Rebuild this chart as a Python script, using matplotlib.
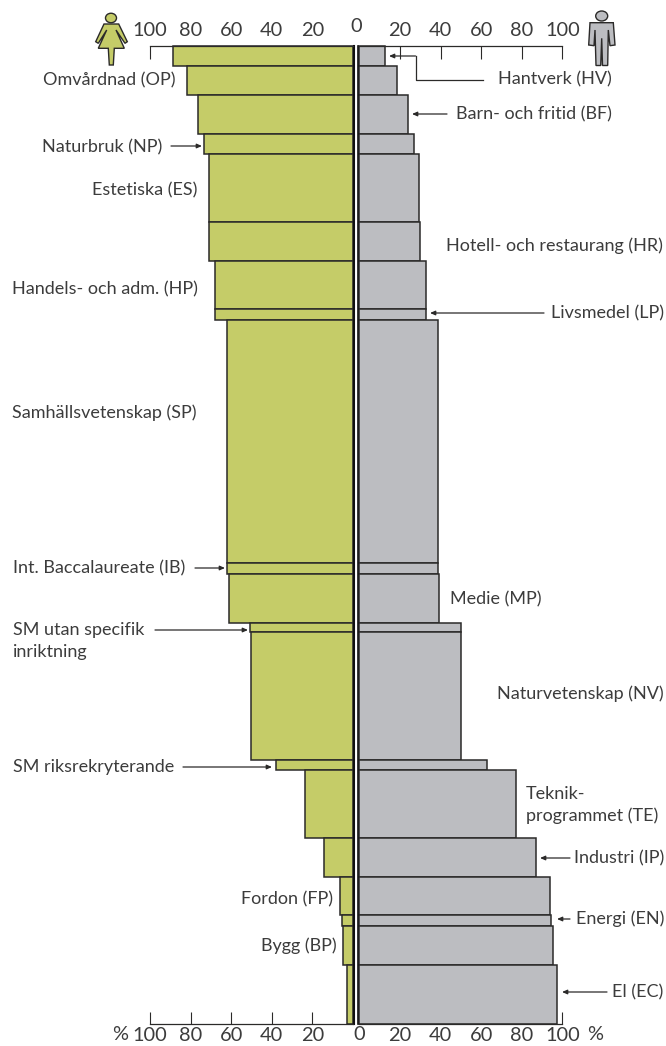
import matplotlib
matplotlib.use("Agg")
import matplotlib.pyplot as plt
import numpy as np
from matplotlib.patches import Ellipse, Polygon
from matplotlib.transforms import ScaledTranslation

plt.rcParams['font.family'] = ['Lato', 'DejaVu Sans']

W, H = 666, 1046
TEXT = '#3c3c3c'
LINE = '#2b2a29'
GREEN = '#c5cc68'
GREY = '#bcbdc1'
LABEL_SIZE = 13.0
NUM_SIZE = 14.4

# share of women / men per row, row height = number of students
women = [88.7, 81.8, 76.4, 73.2, 71.0, 71.0, 68.0, 68.0, 62.0, 61.9, 61.2, 50.7, 50.3, 38.0, 23.6, 14.3, 6.4, 5.6, 5.1, 3.1]
men = [12.6, 18.6, 23.9, 27.0, 29.3, 29.8, 32.8, 32.8, 38.7, 38.7, 39.2, 49.9, 50.0, 63.0, 77.0, 86.9, 94.0, 94.6, 95.4, 97.4]
students = [20, 29, 39, 20, 68, 39, 48, 11, 243, 11, 49, 9, 128, 10, 68, 39, 38, 11, 39, 59]
ticks = [100, 80, 60, 40, 20]

# text labels in picture pixels: text, x, y, ha
labels = [
    ('Omvårdnad (OP)', 43, 80, 'left'),
    ('Naturbruk (NP)', 42, 147, 'left'),
    ('Estetiska (ES)', 92, 190, 'left'),
    ('Handels- och adm. (HP)', 12, 289, 'left'),
    ('Samhällsvetenskap (SP)', 12, 413, 'left'),
    ('Int. Baccalaureate (IB)', 13, 568, 'left'),
    ('SM utan specifik', 13, 630, 'left'),
    ('inriktning', 13, 652, 'left'),
    ('SM riksrekryterande', 13, 767, 'left'),
    ('Fordon (FP)', 241, 899, 'left'),
    ('Bygg (BP)', 261, 946, 'left'),
    ('Hantverk (HV)', 612, 79, 'right'),
    ('Barn- och fritid (BF)', 612, 114, 'right'),
    ('Hotell- och restaurang (HR)', 663, 246, 'right'),
    ('Livsmedel (LP)', 664, 313, 'right'),
    ('Medie (MP)', 450, 599, 'left'),
    ('Naturvetenskap (NV)', 664, 694, 'right'),
    ('Teknik-', 526, 794, 'left'),
    ('programmet (TE)', 526, 816, 'left'),
    ('Industri (IP)', 664, 858, 'right'),
    ('Energi (EN)', 664, 919, 'right'),
    ('El (EC)', 663, 992, 'right'),
]

# arrows: start x, end x, y
arrows = [
    (171, 202, 146), (195, 225, 568), (155, 248, 630), (183, 272, 767),
    (447, 412, 114), (544, 430, 313), (570, 540, 858), (570, 557, 919), (607, 562, 992),
]


def px_axes(x0, x1, y0, y1):
    return fig.add_axes([x0 / W, 1 - y1 / H, (x1 - x0) / W, (y1 - y0) / H])


fig = plt.figure(figsize=(W / 100, H / 100), dpi=100)
tops = np.cumsum([0] + students[:-1])

ax_l = px_axes(150, 353, 46, 1024)
ax_r = px_axes(359.3, 562.3, 46, 1024)

ax_l.barh(tops, women, height=students, align='edge', color=GREEN, edgecolor=LINE, linewidth=1.1)
ax_r.barh(tops, men, height=students, align='edge', color=GREY, edgecolor=LINE, linewidth=1.1)
ax_l.set_xlim(100, 0)
ax_r.set_xlim(0, 100)

for ax in (ax_l, ax_r):
    ax.set_ylim(sum(students), 0)
    ax.set_yticks([])
    ax.set_xticks(ticks)
    ax.set_axisbelow(True)
    ax.patch.set_visible(False)
    ax.tick_params(axis='x', direction='in', top=True, bottom=True, labeltop=True, labelbottom=True,
                   length=9, width=0.8, color=LINE, labelsize=NUM_SIZE, labelcolor=TEXT, pad=2)
    # top numbers sit a bit higher than the bottom ones
    for t in ax.xaxis.get_major_ticks():
        t.label2.set_transform(t.label2.get_transform() + ScaledTranslation(0, 3 / 72, fig.dpi_scale_trans))
    for side in ('top', 'bottom'):
        ax.spines[side].set_linewidth(0.9)
        ax.spines[side].set_color(LINE)
    for bar in ax.patches:
        bar.set_clip_on(False)

# the double centre line
ax_l.spines['left'].set_visible(False)
ax_l.spines['right'].set_position(('outward', 0.95))
ax_l.spines['right'].set_linewidth(1.5)
ax_l.spines['right'].set_color('#111111')
ax_r.spines['right'].set_visible(False)
ax_r.spines['left'].set_position(('outward', 0.95))
ax_r.spines['left'].set_linewidth(1.2)
ax_r.spines['left'].set_color('#111111')

# overlay in picture pixels for labels, arrows and figures
ov = fig.add_axes([0, 0, 1, 1])
ov.set_xlim(0, W)
ov.set_ylim(H, 0)
ov.axis('off')
ov.patch.set_visible(False)

for txt, x, y, ha in labels:
    ov.text(x, y, txt, ha=ha, va='center', fontsize=LABEL_SIZE, color=TEXT)

ov.text(356, 26, '0', ha='center', va='center', fontsize=NUM_SIZE, color=TEXT)
ov.text(359, 1035, '0', ha='center', va='center', fontsize=NUM_SIZE, color=TEXT)
ov.text(120, 1035, '%', ha='center', va='center', fontsize=NUM_SIZE, color=TEXT)
ov.text(595, 1035, '%', ha='center', va='center', fontsize=NUM_SIZE, color=TEXT)

arrow_style = dict(arrowstyle='-|>,head_length=0.3,head_width=0.13', color=LINE, lw=0.9, shrinkA=0, shrinkB=0)
for x0, x1, y in arrows:
    ov.annotate('', xy=(x1, y), xytext=(x0, y), arrowprops=arrow_style)

# Hantverk has a bent leader
ov.plot([483, 415.5, 415.5], [79.5, 79.5, 56], color=LINE, lw=0.9)
ov.annotate('', xy=(389, 56), xytext=(415.5, 56), arrowprops=arrow_style)

# woman
ov.add_patch(Ellipse((111, 18), 11, 9.5, fc=GREEN, ec=LINE, lw=1))
ov.add_patch(Polygon([(104, 24), (118.7, 24), (127.3, 41.7), (125, 43.3), (116, 30), (124.3, 48.3), (114.3, 48.3),
                      (113.3, 65), (109.3, 65), (108.3, 48.3), (98.3, 48.3), (106.7, 30), (98.3, 43.3), (95.7, 41.7)],
                     closed=True, fc=GREEN, ec=LINE, lw=1))
# man
ov.add_patch(Ellipse((601.7, 16), 12, 10, fc=GREY, ec=LINE, lw=1))
ov.add_patch(Polygon([(590, 22.7), (613.3, 22.7), (615, 45), (610, 45.7), (608.3, 30), (607.7, 65.5), (602.5, 65.5),
                      (601.7, 38.3), (600.7, 65.5), (596, 65.5), (595, 30), (594, 45.7), (588.7, 45)],
                     closed=True, fc=GREY, ec=LINE, lw=1))

fig.savefig('out.png', dpi=100)
